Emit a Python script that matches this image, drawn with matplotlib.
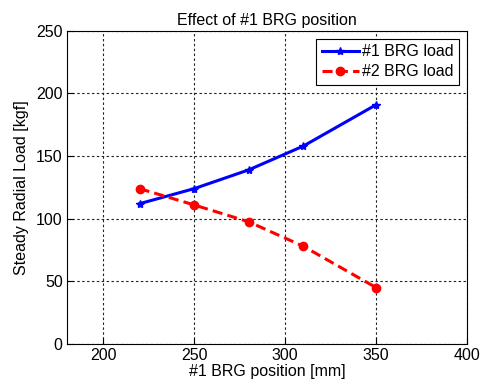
import matplotlib
matplotlib.use("Agg")
import matplotlib.pyplot as plt

plt.rcParams['font.family'] = ['Liberation Sans', 'DejaVu Sans']

positions = [220, 250, 280, 310, 350]
brg1_load = [112, 124, 139, 158, 191]
brg2_load = [124, 111, 97.5, 78, 45]
x_ticks = [200, 250, 300, 350, 400]
y_ticks = [0, 50, 100, 150, 200, 250]

FS = 11.5

fig = plt.figure(figsize=(4.84, 3.86), dpi=100)
ax = fig.add_axes([0.138, 0.109, 0.827, 0.811])

ax.plot(positions, brg1_load, '-', color='#0000ff', lw=2.2, marker='*', ms=6, label='#1 BRG load')
ax.plot(positions, brg2_load, '--', color='#ff0000', lw=2.2, marker='o', ms=6, label='#2 BRG load',
        dashes=(3.3, 1.7))

ax.set_xlim(180, 400)
ax.set_ylim(0, 250)
ax.set_xticks(x_ticks)
ax.set_yticks(y_ticks)
ax.grid(True, color='#222222', linestyle=(0, (2.2, 2.2)), lw=0.8)
ax.tick_params(direction='in', labelsize=FS, length=4, pad=3)
for s in ax.spines.values():
    s.set_linewidth(0.8)

ax.set_title('Effect of #1 BRG position', fontsize=FS, pad=4)
ax.set_xlabel('#1 BRG position [mm]', fontsize=FS, labelpad=1)
ax.set_ylabel('Steady Radial Load [kgf]', fontsize=FS, labelpad=5)

leg = ax.legend(loc='upper right', fontsize=FS, fancybox=False, edgecolor='black',
                framealpha=1, borderaxespad=0.5, handlelength=2.3, handletextpad=0.2,
                labelspacing=0.3, borderpad=0.35)
leg.get_frame().set_linewidth(0.8)

fig.savefig('out.png', dpi=100)
